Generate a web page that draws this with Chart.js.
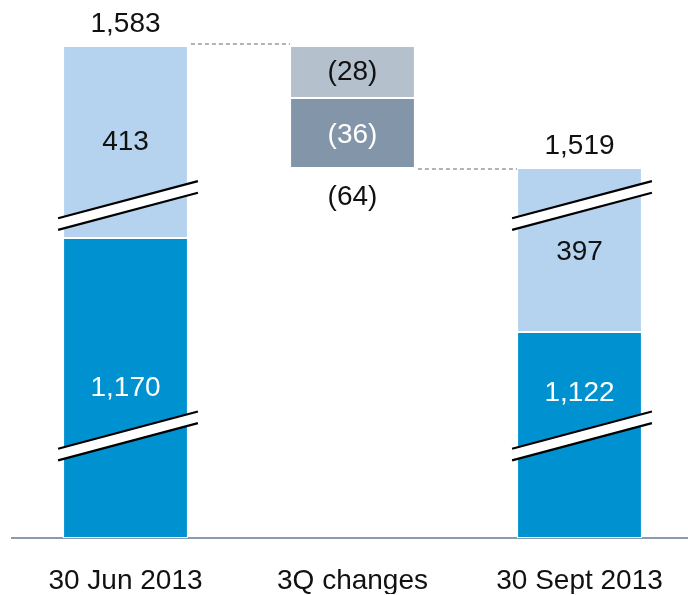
<!DOCTYPE html>
<html>
<head>
<meta charset="utf-8">
<script src="https://cdn.jsdelivr.net/npm/chart.js@4/dist/chart.umd.min.js"></script>
<style>
  html, body { margin: 0; padding: 0; background: #fff; overflow: hidden; }
  #wrap { width: 693px; height: 595px; }
</style>
</head>
<body>
<div id="wrap"><canvas id="bridge"></canvas></div>
<script>
const categories = ["30 Jun 2013", "3Q changes", "30 Sept 2013"];
const coreValues = [1170, null, 1122];
const otherValues = [413, null, 397];
const firstChange = [null, -28, null];
const secondChange = [null, -36, null];

// broken value axis: value -> share of the plot height
const axisAnchors = [[0, 0], [1122, 0.4187], [1170, 0.6098], [1519, 0.752], [1555, 0.8943], [1583, 1]];
const axisBreaks = [556, 1332];

const FONT = "'Liberation Sans', Arial, sans-serif";

const totals = coreValues.map((v, i) => v === null ? null : v + otherValues[i]);
const opening = totals[0];
const afterFirst = opening + firstChange[1];
const changeTotal = firstChange[1] + secondChange[1];

const darkBars = coreValues.map(v => v === null ? null : [0, v]);
const lightBars = coreValues.map((v, i) => v === null ? null : [v, v + otherValues[i]]);
const firstBars = firstChange.map(v => v === null ? null : [opening + v, opening]);
const secondBars = secondChange.map(v => v === null ? null : [afterFirst + v, afterFirst]);

class BrokenScale extends Chart.LinearScale {
  getPixelForValue(value) {
    const a = this.options.anchors;
    let frac = 0;
    if (value <= a[0][0]) frac = a[0][1];
    else if (value >= a[a.length - 1][0]) frac = a[a.length - 1][1];
    else {
      for (let i = 1; i < a.length; i++) {
        if (value <= a[i][0]) {
          const t = (value - a[i - 1][0]) / (a[i][0] - a[i - 1][0]);
          frac = a[i - 1][1] + t * (a[i][1] - a[i - 1][1]);
          break;
        }
      }
    }
    return this.getPixelForDecimal(frac);
  }
  getValueForPixel(pixel) {
    const a = this.options.anchors;
    const frac = this.getDecimalForPixel(pixel);
    for (let i = 1; i < a.length; i++) {
      if (frac <= a[i][1]) {
        const t = (frac - a[i - 1][1]) / (a[i][1] - a[i - 1][1]);
        return a[i - 1][0] + t * (a[i][0] - a[i - 1][0]);
      }
    }
    return a[a.length - 1][0];
  }
}
BrokenScale.id = "broken";
BrokenScale.defaults = Object.assign({}, Chart.LinearScale.defaults);
Chart.register(BrokenScale);

function fmt(v) {
  const s = Math.abs(v).toLocaleString("en-US");
  return v < 0 ? "(" + s + ")" : s;
}

const overlay = {
  id: "overlay",
  afterDatasetsDraw(chart) {
    const ctx = chart.ctx;
    const y = chart.scales.y;
    ctx.save();

    // connectors
    const m0 = chart.getDatasetMeta(1).data[0];
    const m1 = chart.getDatasetMeta(2).data[1];
    const m1b = chart.getDatasetMeta(3).data[1];
    const m2 = chart.getDatasetMeta(1).data[2];
    ctx.strokeStyle = "#9a9a9a";
    ctx.lineWidth = 1.5;
    ctx.setLineDash([4, 3]);
    ctx.beginPath();
    let py = y.getPixelForValue(opening) - 2;
    ctx.moveTo(m0.x + m0.width / 2 + 3, py);
    ctx.lineTo(m1.x - m1.width / 2, py);
    py = y.getPixelForValue(opening + changeTotal) + 1;
    ctx.moveTo(m1b.x + m1b.width / 2 + 3, py);
    ctx.lineTo(m2.x - m2.width / 2, py);
    ctx.stroke();
    ctx.setLineDash([]);

    // axis break marks
    [0, 1].forEach(di => {
      const ds = chart.data.datasets[di];
      chart.getDatasetMeta(di).data.forEach((bar, i) => {
        const r = ds.data[i];
        if (!r) return;
        axisBreaks.forEach(b => {
          if (b <= r[0] || b >= r[1]) return;
          const cy = y.getPixelForValue(b);
          const cx = bar.x + 2.5;
          const hw = bar.width / 2 + 7.5;
          const dy = hw * 0.266;
          const g = 5.8;
          ctx.fillStyle = "#fff";
          ctx.beginPath();
          ctx.moveTo(cx - hw, cy + dy - g);
          ctx.lineTo(cx + hw, cy - dy - g);
          ctx.lineTo(cx + hw, cy - dy + g);
          ctx.lineTo(cx - hw, cy + dy + g);
          ctx.closePath();
          ctx.fill();
          ctx.strokeStyle = "#000";
          ctx.lineWidth = 2.2;
          ctx.beginPath();
          ctx.moveTo(cx - hw, cy + dy - g);
          ctx.lineTo(cx + hw, cy - dy - g);
          ctx.moveTo(cx - hw, cy + dy + g);
          ctx.lineTo(cx + hw, cy - dy + g);
          ctx.stroke();
        });
      });
    });

    // value labels
    ctx.font = "28px " + FONT;
    ctx.textAlign = "center";
    ctx.textBaseline = "middle";
    const segLabels = [
      { di: 0, vals: coreValues, color: "#fff", shift: [0, 0, -42] },
      { di: 1, vals: otherValues, color: "#111", shift: [0, 0, 2] },
      { di: 2, vals: firstChange, color: "#111", shift: [0, 0, 0] },
      { di: 3, vals: secondChange, color: "#fff", shift: [0, 2, 0] }
    ];
    segLabels.forEach(s => {
      chart.getDatasetMeta(s.di).data.forEach((bar, i) => {
        if (s.vals[i] === null) return;
        ctx.fillStyle = s.color;
        ctx.fillText(fmt(s.vals[i]), bar.x, (bar.y + bar.base) / 2 + s.shift[i]);
      });
    });
    ctx.fillStyle = "#111";
    chart.getDatasetMeta(1).data.forEach((bar, i) => {
      if (totals[i] === null) return;
      ctx.fillText(fmt(totals[i]), bar.x, Math.min(bar.y, bar.base) - 22);
    });
    const mid = chart.getDatasetMeta(3).data[1];
    ctx.fillText(fmt(changeTotal), mid.x, Math.max(mid.y, mid.base) + 29);
    ctx.restore();
  }
};

new Chart(document.getElementById("bridge"), {
  type: "bar",
  data: {
    labels: categories,
    datasets: [
      { data: darkBars, backgroundColor: "#0091d0" },
      { data: lightBars, backgroundColor: "#b5d3ef" },
      { data: firstBars, backgroundColor: "#b4c0cc" },
      { data: secondBars, backgroundColor: "#8395a9" }
    ]
  },
  options: {
    responsive: true,
    maintainAspectRatio: false,
    animation: false,
    events: [],
    layout: { padding: { left: 12, right: 0, top: 46, bottom: 1 } },
    datasets: {
      bar: {
        barPercentage: 0.55,
        categoryPercentage: 1,
        borderColor: "#fff",
        borderWidth: 1,
        borderSkipped: false
      }
    },
    plugins: {
      legend: { display: false },
      tooltip: { enabled: false }
    },
    scales: {
      x: {
        stacked: true,
        grid: { display: false },
        border: { display: true, color: "#8a9bad", width: 2 },
        afterFit(scale) { scale.height = 56; },
        ticks: {
          color: "#111",
          padding: 18,
          font: { family: FONT, size: 28 }
        }
      },
      y: {
        type: "broken",
        anchors: axisAnchors,
        min: 0,
        max: 1583,
        display: false
      }
    }
  },
  plugins: [overlay]
});
</script>
</body>
</html>
